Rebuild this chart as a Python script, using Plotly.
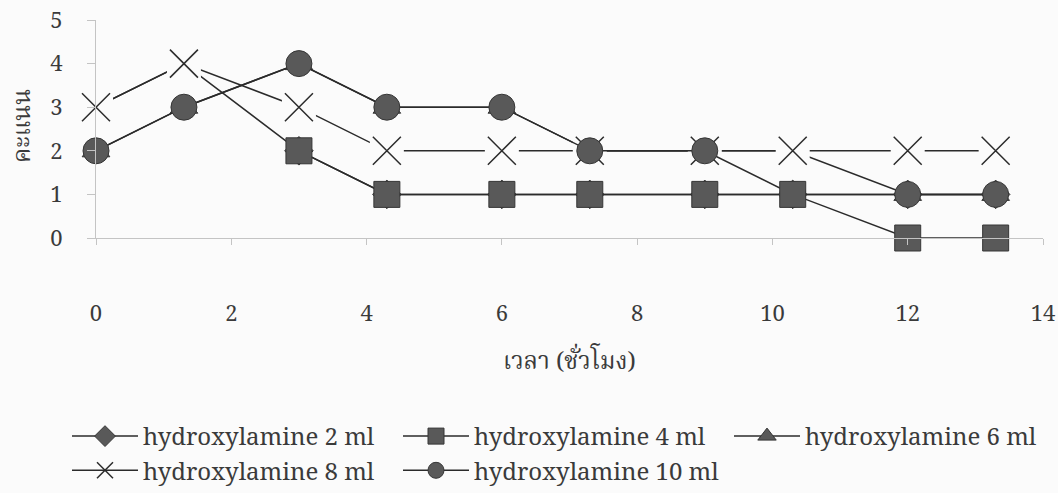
import plotly.graph_objects as go

# ---- data ----
hours = [0, 1.3, 3, 4.3, 6, 7.3, 9, 10.3, 12, 13.3]
ml2 = [3, 4, 2, 1, 1, 1, 1, 1, 1, 1]
ml4 = [None, None, 2, 1, 1, 1, 1, 1, 0, 0]
ml6 = [2, 3, 4, 3, 3, 2, 2, 2, 1, 1]
ml8 = [3, 4, 3, 2, 2, 2, 2, 2, 2, 2]
ml10 = [2, 3, 4, 3, 3, 2, 2, 1, 1, 1]
names = ["hydroxylamine 2 ml", "hydroxylamine 4 ml", "hydroxylamine 6 ml",
         "hydroxylamine 8 ml", "hydroxylamine 10 ml"]
x_ticks = [0, 2, 4, 6, 8, 10, 12, 14]
y_ticks = [0, 1, 2, 3, 4, 5]
x_title = "เวลา (ชั่วโมง)"
y_title = "คะแนน"

BG = "#fbfbfb"
LINE = "#2b2b2b"
FILL = "#595959"
EDGE = "#363636"
AXIS = "#c4c4c4"
TXT = "#3a3a3a"
THAI = "Noto Serif Thai, Noto Sans Thai, Garuda, Loma, sans-serif"
SERIF = "Noto Serif, DejaVu Serif"

fig = go.Figure()

def lm(y, name, symbol, size, rank, mode="lines+markers", show=True):
    return go.Scatter(
        x=hours, y=y, name=name, mode=mode, legendrank=rank, showlegend=show,
        line=dict(color=LINE, width=1.5),
        marker=dict(symbol=symbol, size=size, color=FILL,
                    line=dict(color=EDGE, width=1)),
        cliponaxis=False, connectgaps=False,
    )

fig.add_trace(lm(ml2, names[0], "diamond", 22, 1))
fig.add_trace(lm(ml6, names[2], "triangle-up", 24, 3))
# 8 ml: line, white box behind each X, then the X markers
fig.add_trace(go.Scatter(
    x=hours, y=ml8, name=names[3], mode="lines+markers", legendrank=4,
    line=dict(color=LINE, width=1.5),
    marker=dict(symbol="x-thin", size=28, line=dict(color=LINE, width=1.5)),
    cliponaxis=False))
fig.add_trace(go.Scatter(
    x=hours, y=ml8, mode="markers", showlegend=False, hoverinfo="skip",
    marker=dict(symbol="square", size=34, color=BG, line=dict(width=0)),
    cliponaxis=False))
fig.add_trace(go.Scatter(
    x=hours, y=ml8, mode="markers", showlegend=False, hoverinfo="skip",
    marker=dict(symbol="x-thin", size=28, line=dict(color=LINE, width=1.5)),
    cliponaxis=False))
fig.add_trace(lm(ml10, names[4], "circle", 26, 5))
fig.add_trace(lm(ml4, names[1], "square", 26, 2))

fig.update_layout(
    width=1058, height=493,
    margin=dict(l=96, r=15, t=20, b=255, autoexpand=False),
    paper_bgcolor=BG, plot_bgcolor=BG,
    font=dict(family=SERIF, size=24, color=TXT),
    xaxis=dict(range=[0, 14], tickvals=x_ticks, showgrid=False, zeroline=False,
               showline=True, linecolor=AXIS, linewidth=1,
               ticks="outside", ticklen=6, tickcolor=AXIS,
               ticklabelstandoff=50,
               tickfont=dict(family=SERIF, size=22, color=TXT)),
    yaxis=dict(range=[0, 5], tickvals=y_ticks, showgrid=False, zeroline=False,
               showline=True, linecolor=AXIS, linewidth=1,
               ticks="outside", ticklen=8, tickcolor=AXIS,
               ticklabelstandoff=20,
               tickfont=dict(family=SERIF, size=22, color=TXT)),
    legend=dict(orientation="h", xref="paper", yref="paper",
                x=(67 - 96) / 947, y=(238 - 414) / 218,
                xanchor="left", yanchor="top",
                itemwidth=66, entrywidth=250, entrywidthmode="pixels",
                bgcolor="rgba(0,0,0,0)",
                font=dict(family=SERIF, size=24, color=TXT)),
    annotations=[
        dict(text=x_title, xref="paper", yref="paper", x=0.5, y=(238 - 362) / 218,
             xanchor="center", yanchor="middle", showarrow=False,
             font=dict(family=THAI, size=24, color=TXT)),
        dict(text=y_title, xref="paper", yref="paper", x=(23 - 96) / 947,
             y=(238 - 126) / 218, xanchor="center", yanchor="middle",
             textangle=-90, showarrow=False,
             font=dict(family=THAI, size=24, color=TXT)),
    ],
)

fig.write_html("out.html")
